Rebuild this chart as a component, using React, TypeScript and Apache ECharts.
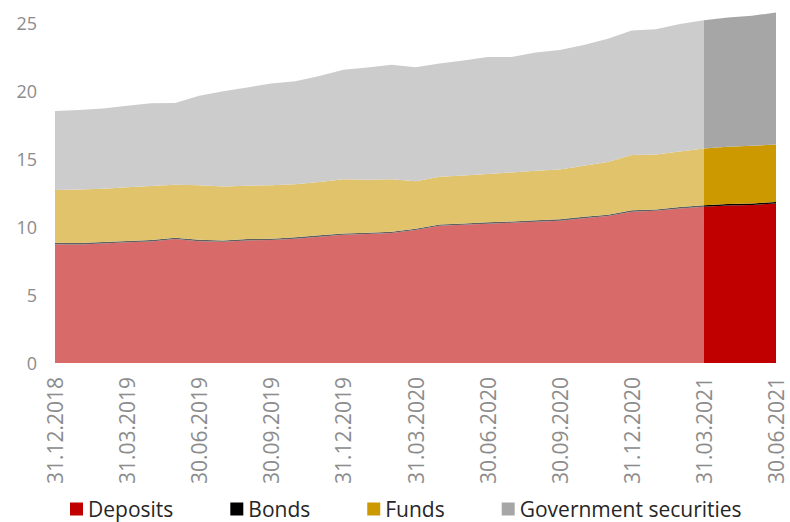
import React, { useEffect, useRef } from "react";
import * as echarts from "echarts";

const categories = [
  "31.12.2018", "31.01.2019", "28.02.2019", "31.03.2019", "30.04.2019", "31.05.2019",
  "30.06.2019", "31.07.2019", "31.08.2019", "30.09.2019", "31.10.2019", "30.11.2019",
  "31.12.2019", "31.01.2020", "29.02.2020", "31.03.2020", "30.04.2020", "31.05.2020",
  "30.06.2020", "31.07.2020", "31.08.2020", "30.09.2020", "31.10.2020", "30.11.2020",
  "31.12.2020", "31.01.2021", "28.02.2021", "31.03.2021", "30.04.2021", "31.05.2021",
  "30.06.2021",
];

const deposits = [
  8.73, 8.71, 8.78, 8.86, 8.93, 9.1, 8.95, 8.9, 9.0, 9.03, 9.13, 9.28, 9.42, 9.47, 9.54,
  9.76, 10.08, 10.15, 10.23, 10.3, 10.38, 10.45, 10.64, 10.79, 11.11, 11.18, 11.35, 11.48,
  11.56, 11.61, 11.71,
];
const bonds = [
  0.1, 0.1, 0.1, 0.1, 0.1, 0.1, 0.1, 0.1, 0.1, 0.1, 0.1, 0.1, 0.1, 0.1, 0.1, 0.1, 0.1, 0.1,
  0.1, 0.1, 0.1, 0.1, 0.1, 0.1, 0.1, 0.1, 0.1, 0.1, 0.11, 0.11, 0.11,
];
const funds = [
  3.87, 3.94, 3.92, 3.94, 3.97, 3.89, 4.0, 3.97, 3.92, 3.92, 3.89, 3.91, 3.97, 3.89, 3.85,
  3.49, 3.5, 3.53, 3.55, 3.6, 3.64, 3.67, 3.75, 3.87, 4.06, 4.04, 4.09, 4.18, 4.21, 4.23,
  4.23,
];
const government = [
  5.8, 5.83, 5.9, 5.99, 6.07, 6.0, 6.58, 6.98, 7.22, 7.48, 7.58, 7.78, 8.04, 8.25, 8.41,
  8.38, 8.32, 8.44, 8.59, 8.47, 8.69, 8.76, 8.86, 9.05, 9.15, 9.2, 9.35, 9.42, 9.5, 9.55,
  9.7,
];

const seriesNames = ["Deposits", "Bonds", "Funds", "Government securities"];
const lightColors = ["#D86A6A", "#606060", "#E0C36A", "#CCCCCC"];
const darkColors = ["#C00000", "#000000", "#CC9900", "#A6A6A6"];
const splitIndex = 27; // 31.03.2021: forecast part starts

export default function App() {
  const ref = useRef<HTMLDivElement>(null);
  useEffect(() => {
    if (!ref.current) return;
    const chart = echarts.init(ref.current, undefined, { renderer: "svg" });
    const all = [deposits, bonds, funds, government];
    const series: any[] = [];
    all.forEach((arr, k) => {
      series.push({
        name: seriesNames[k] + " (actual)",
        type: "line",
        stack: "actual",
        areaStyle: { color: lightColors[k], opacity: 1 },
        lineStyle: { width: 0 },
        showSymbol: false,
        itemStyle: { color: lightColors[k] },
        data: arr.map((v, i) => (i <= splitIndex ? v : null)),
      });
    });
    all.forEach((arr, k) => {
      series.push({
        name: seriesNames[k],
        type: "line",
        stack: "forecast",
        areaStyle: { color: darkColors[k], opacity: 1 },
        lineStyle: { width: 0 },
        showSymbol: false,
        itemStyle: { color: darkColors[k] },
        data: arr.map((v, i) => (i >= splitIndex ? v : null)),
      });
    });
    chart.setOption({
      animation: false,
      grid: { left: 55, right: 14, top: 9, bottom: 159 },
      legend: {
        data: seriesNames,
        top: 497,
        left: 70,
        padding: 0,
        itemWidth: 13,
        itemHeight: 13,
        itemGap: 57,
        icon: "rect",
        textStyle: { fontFamily: "Open Sans", fontSize: 21, lineHeight: 24, color: "#262626" },
      },
      xAxis: {
        type: "category",
        data: categories,
        boundaryGap: false,
        axisLine: { show: false },
        axisTick: { show: false },
        axisLabel: {
          rotate: 90,
          interval: 2,
          margin: 14,
          fontFamily: "Open Sans",
          fontSize: 21,
          lineHeight: 15,
          color: "#8C8C8C",
        },
      },
      yAxis: {
        type: "value",
        min: 0,
        max: 26,
        interval: 5,
        splitLine: { show: false },
        axisLine: { show: false },
        axisTick: { show: false },
        axisLabel: {
          showMaxLabel: false,
          margin: 18,
          fontFamily: "Open Sans",
          fontSize: 18,
          color: "#8C8C8C",
        },
      },
      series,
    });
    return () => chart.dispose();
  }, []);
  return (
    <div
      ref={ref}
      style={{ position: "fixed", left: 0, top: 0, width: 790, height: 522, background: "#fff" }}
    />
  );
}
